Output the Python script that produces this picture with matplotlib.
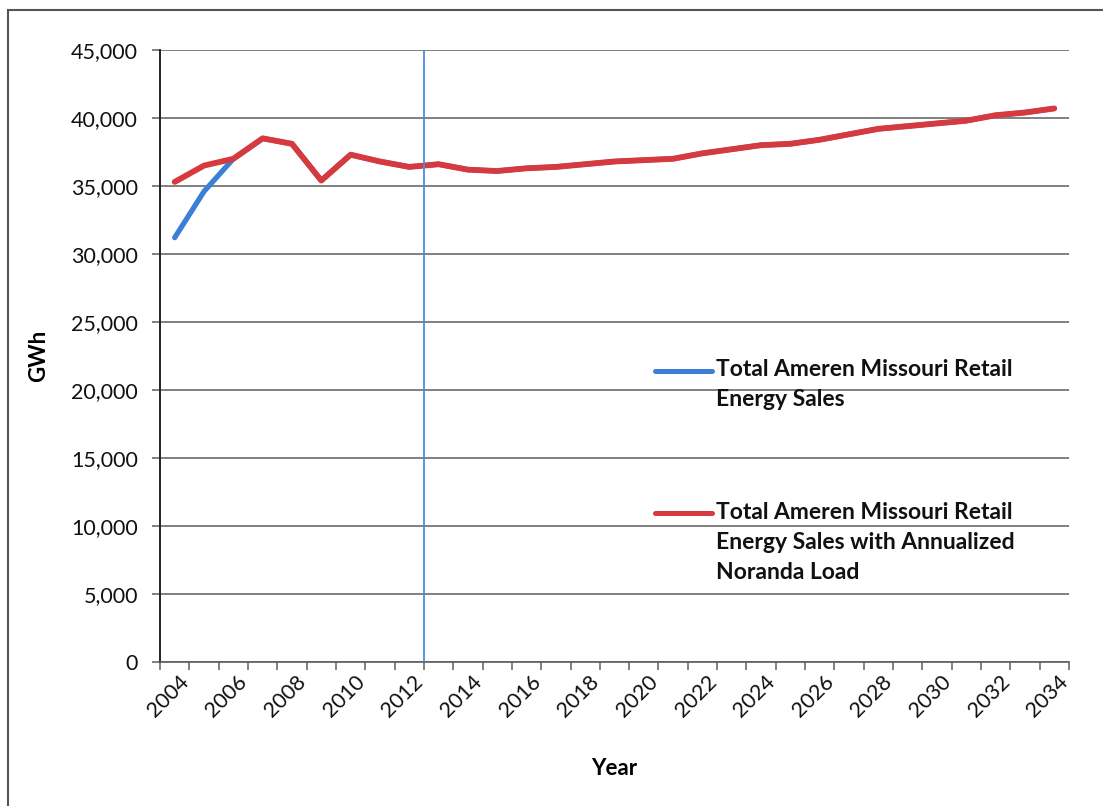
import matplotlib.pyplot as plt
from matplotlib.lines import Line2D
from matplotlib.patches import Rectangle
from matplotlib.ticker import FuncFormatter

# Annual retail energy sales, GWh (history through 2012, forecast after)
years = list(range(2004, 2035))
sales_with_noranda = [35300, 36500, 37000, 38500, 38100, 35400, 37300, 36800, 36400, 36600,
                      36200, 36100, 36300, 36400, 36600, 36800, 36900, 37000, 37400, 37700,
                      38000, 38100, 38400, 38800, 39200, 39400, 39600, 39800, 40200, 40400,
                      40700]
sales_total = [31200, 34600] + sales_with_noranda[2:]
forecast_start = 2012.5

label_total = "Total Ameren Missouri Retail\nEnergy Sales"
label_noranda = "Total Ameren Missouri Retail\nEnergy Sales with Annualized\nNoranda Load"

red = "#d63a3f"
blue = "#3b7fd6"
grid_c = "#5e5e5e"

plt.rcParams['font.family'] = ['Lato', 'DejaVu Sans']

fig = plt.figure(figsize=(11.03, 8.06), dpi=100)
ax = fig.add_axes([0.1451, 0.1787, 0.824, 0.7593])

ax.plot(years, sales_total, color=blue, lw=3.8, solid_capstyle='round', zorder=3)
ax.plot(years, sales_with_noranda, color=red, lw=4.2, solid_capstyle='round', zorder=4)
ax.axvline(forecast_start, color="#4a8ee0", lw=1.3, zorder=5)

ax.set_xlim(2003.5, 2034.5)
ax.set_ylim(0, 45000)
ax.set_yticks(range(0, 45001, 5000))
ax.yaxis.set_major_formatter(FuncFormatter(lambda v, p: f"{int(v):,}"))
ax.grid(axis='y', color=grid_c, lw=1.1)
ax.set_axisbelow(True)

# category-style x axis: ticks between years, labels every other year,
# rotated labels sit a little right of the category centre
ax.set_xticks([y + 0.5 for y in range(2003, 2035)], minor=True)
ax.set_xticks([y + 0.37 for y in years[::2]])
ax.set_xticklabels([str(y) for y in years[::2]], rotation=45, ha='right', va='center',
                   rotation_mode='anchor', fontsize=15.5, color='#111111')
ax.tick_params(axis='x', which='major', length=0, pad=12)
ax.tick_params(axis='x', which='minor', length=6, width=1.1, color=grid_c)
ax.tick_params(axis='y', length=6, width=1.1, color=grid_c, labelsize=15.5,
               labelcolor='#111111', pad=10)

for s in ['top', 'right']:
    ax.spines[s].set_visible(False)
ax.spines['left'].set_color('#222222')
ax.spines['left'].set_linewidth(1.4)
ax.spines['bottom'].set_color(grid_c)
ax.spines['bottom'].set_linewidth(1.2)

ax.set_ylabel("GWh", fontsize=16, fontweight='bold')
ax.yaxis.set_label_coords(-0.122, 0.5)
ax.set_xlabel("Year", fontsize=16, fontweight='bold')
ax.xaxis.set_label_coords(0.5, -0.157)

# legend entries drawn beside the lines, handle level with the first text line
for y_top, y_line, col, txt in [(0.4955, 0.4755, blue, label_total),
                                (0.2618, 0.2435, red, label_noranda)]:
    ax.add_line(Line2D([0.5446, 0.607], [y_line] * 2, transform=ax.transAxes,
                       color=col, lw=3.6, solid_capstyle='round', zorder=6))
    ax.text(0.6117, y_top, txt, transform=ax.transAxes, fontsize=16.5, fontweight='bold',
            va='top', ha='left', linespacing=1.55, color='#111111')

# outer border of the figure box
fig.add_artist(Rectangle((8 / 1103, -0.1), 1.2, 1 - 10 / 806 + 0.1, transform=fig.transFigure,
                         fill=False, edgecolor='#555555', lw=1.5))

fig.savefig("out.png", dpi=100)
